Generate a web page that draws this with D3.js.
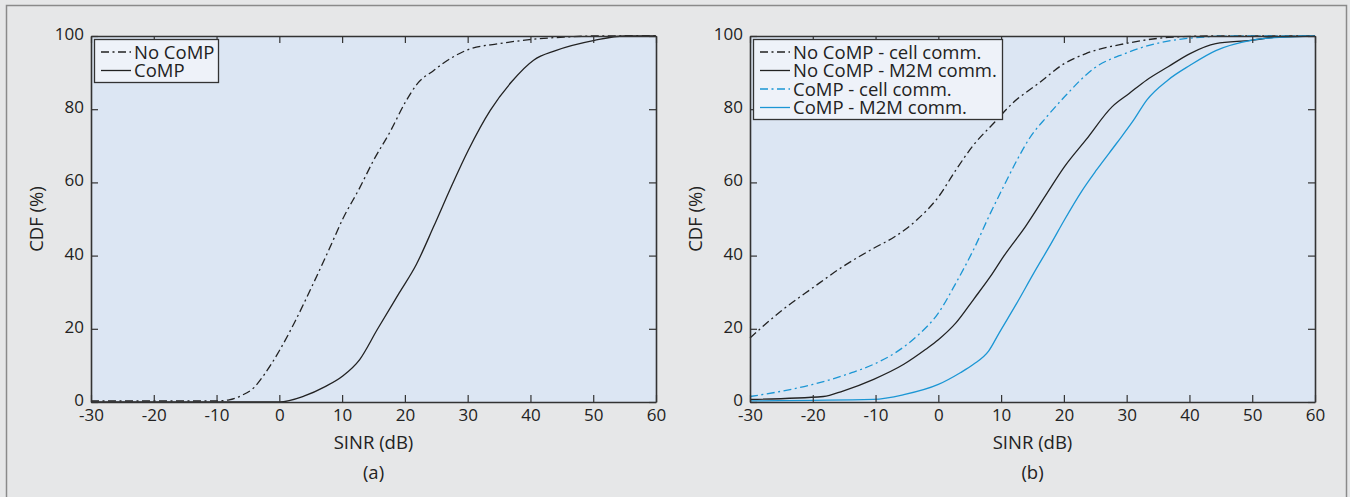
<!DOCTYPE html>
<html>
<head>
<meta charset="utf-8">
<script src="https://cdn.jsdelivr.net/npm/d3@7"></script>
<style>
  body { margin: 0; background: #e6e7e8; }
  svg { display: block; font-family: "Open Sans", "Noto Sans", sans-serif; }
</style>
</head>
<body>
<div id="wrapper"></div>
<script>
// x ticks and y ticks shared by both panels
const xTicks = [-30, -20, -10, 0, 10, 20, 30, 40, 50, 60]
const yTicks = [0, 20, 40, 60, 80, 100]

// panel (a)
const noCompA = [[-30,0.3],[-20,0.3],[-10,0.3],[-8,0.6],[-6,1.8],[-4,4],[-2.4,7.5],[0,14],[2.5,22],[5.2,31.6],[8,42],[10.1,50],[12.8,58.5],[15,66],[17.7,74],[20.1,82],[22,87],[24.6,90.6],[27.4,94],[30.1,96.3],[35,97.9],[39.8,99],[45.3,99.7],[50.2,100],[60,100]]
const compA = [[-30,0],[-10,0],[0,0],[3.9,1.6],[7.3,4.2],[10.1,7.1],[12.8,11.6],[15.6,19.8],[19.1,29.8],[21.8,37.5],[24.6,48],[27.4,58.9],[30.1,68.8],[33.6,79.7],[37,87.5],[40.5,93.4],[44,96],[50.2,98.8],[55,100],[60,100]]

// panel (b)
const noCompCellB = [[-30,17.5],[-24.8,25.2],[-20,31.2],[-15.2,37],[-10.3,42],[-6.9,45.2],[-3.4,49.8],[0,56],[2.8,63.4],[5.6,70.2],[9,76.5],[11.8,81.6],[15.9,87],[20.1,92.5],[23.5,95.2],[29.7,97.9],[36.6,99.6],[43.5,100],[60,100]]
const noCompM2mB = [[-30,0.7],[-18.3,1.5],[-15.2,3],[-10.3,6.2],[-5.5,10.3],[-2,14.4],[0,17],[2.8,21.6],[5.6,28],[8.3,34.3],[10.4,39.8],[13.9,48],[17.3,57],[20.1,64.3],[23.5,71.6],[27.7,80.7],[30.4,84.3],[33.2,88],[36.6,91.6],[40.1,95.2],[44.2,97.9],[49.8,98.8],[53.9,99.7],[60,100]]
const compCellB = [[-30,1.5],[-24.8,3],[-20,4.8],[-13.8,8],[-10.3,10.3],[-6.9,13.4],[-3.4,18],[0,24.3],[2.8,32.5],[5.6,41.6],[8.3,51.6],[10.4,58.9],[12.5,66],[14.5,72],[17.3,78],[20.1,83.4],[24.9,91.3],[29.7,95.2],[34.6,97.9],[40.1,99.4],[47,100],[60,100]]
const compM2mB = [[-30,0.3],[-10.3,0.7],[-5.5,2],[0,4.8],[3.5,8],[5.6,10.3],[8,13.9],[9.7,18.9],[12.5,27],[15.2,35.2],[18,43.4],[20.1,49.8],[22.8,57.5],[25.2,63.4],[28.4,70.7],[31.1,77],[33.2,82.5],[36.6,88],[40.1,92],[44.2,96],[49.8,98.8],[55.3,99.7],[60,100]]

const blue = "#1b96d4"
const dashDot = "8,3.5,2,3.5"

const width = 1350
const height = 497

const svg = d3.select("#wrapper").append("svg")
    .attr("width", width)
    .attr("height", height)

// outer frame
svg.append("rect").attr("width", width).attr("height", height).attr("fill", "#e6e7e8")
svg.append("path")
    .attr("d", `M6.5,${height} V5.5 H1346.5 V${height}`)
    .attr("fill", "none").attr("stroke", "#8a8a8a").attr("stroke-width", 1.5)

function drawPanel(o) {
    const x = d3.scaleLinear().domain([-30, 60]).range([o.left, o.right])
    const y = d3.scaleLinear().domain([0, 100]).range([402, 36])
    const g = svg.append("g")

    g.append("rect")
        .attr("x", o.left).attr("y", 36)
        .attr("width", o.right - o.left).attr("height", 366)
        .attr("fill", "#dce6f3")

    const line = d3.line().x(d => x(d[0])).y(d => y(d[1])).curve(d3.curveMonotoneX)
    o.series.forEach(s => {
        g.append("path")
            .datum(s.data)
            .attr("d", line)
            .attr("fill", "none")
            .attr("stroke", s.color)
            .attr("stroke-width", 1.3)
            .attr("stroke-dasharray", s.dash || null)
    })

    const styleAxis = sel => {
        sel.select(".domain").attr("stroke", "#333").attr("stroke-width", 1.6)
        sel.selectAll(".tick line").attr("stroke", "#333").attr("stroke-width", 1.2)
        sel.selectAll(".tick text").attr("fill", "#222").attr("font-size", 17)
        sel.attr("font-family", null)
    }
    const fmt = d => String(d)

    g.append("g").attr("transform", "translate(0,402)")
        .call(d3.axisBottom(x).tickValues(xTicks).tickFormat(fmt).tickSize(-7).tickPadding(7).tickSizeOuter(0))
        .call(styleAxis)
    g.append("g").attr("transform", "translate(0,36)")
        .call(d3.axisTop(x).tickValues(xTicks).tickSize(-7).tickFormat("").tickSizeOuter(0))
        .call(styleAxis)
    g.append("g").attr("transform", `translate(${o.left},0)`)
        .call(d3.axisLeft(y).tickValues(yTicks).tickFormat(fmt).tickSize(-7).tickPadding(7).tickSizeOuter(0))
        .call(styleAxis)
        .call(sel => sel.selectAll(".tick text").attr("dy", "0.2em"))
    g.append("g").attr("transform", `translate(${o.right},0)`)
        .call(d3.axisRight(y).tickValues(yTicks).tickSize(-7).tickFormat("").tickSizeOuter(0))
        .call(styleAxis)

    const cx = (o.left + o.right) / 2
    g.append("text").attr("x", cx).attr("y", 449).attr("text-anchor", "middle")
        .attr("font-size", 18.5).attr("fill", "#222").text("SINR (dB)")
    g.append("text").attr("x", cx).attr("y", 479).attr("text-anchor", "middle")
        .attr("font-size", 18.5).attr("fill", "#222").text(o.caption)
    g.append("text")
        .attr("transform", `translate(${o.left - 48},219) rotate(-90)`)
        .attr("text-anchor", "middle")
        .attr("font-size", 18.5).attr("fill", "#222").text("CDF (%)")

    // legend
    const lg = g.append("g")
    lg.append("rect")
        .attr("x", o.left + 3.5).attr("y", 39.5)
        .attr("width", o.legendW).attr("height", 18.5 * o.series.length + 6)
        .attr("fill", "#eef2f9").attr("stroke", "#333").attr("stroke-width", 1.3)
    o.series.forEach((s, i) => {
        const yy = 52 + i * 18.5
        lg.append("line")
            .attr("x1", o.left + 10).attr("x2", o.left + 40)
            .attr("y1", yy).attr("y2", yy)
            .attr("stroke", s.color).attr("stroke-width", 1.3)
            .attr("stroke-dasharray", s.dash || null)
        lg.append("text")
            .attr("x", o.left + 43).attr("y", yy + 6.5)
            .attr("font-size", 18.5).attr("fill", "#222").text(s.name)
    })
}

drawPanel({
    left: 91, right: 656, caption: "(a)", legendW: 124,
    series: [
        { name: "No CoMP", data: noCompA, color: "#222", dash: dashDot },
        { name: "CoMP", data: compA, color: "#222" }
    ]
})

drawPanel({
    left: 750, right: 1315, caption: "(b)", legendW: 249,
    series: [
        { name: "No CoMP - cell comm.", data: noCompCellB, color: "#222", dash: dashDot },
        { name: "No CoMP - M2M comm.", data: noCompM2mB, color: "#222" },
        { name: "CoMP - cell comm.", data: compCellB, color: blue, dash: dashDot },
        { name: "CoMP - M2M comm.", data: compM2mB, color: blue }
    ]
})
</script>
</body>
</html>
